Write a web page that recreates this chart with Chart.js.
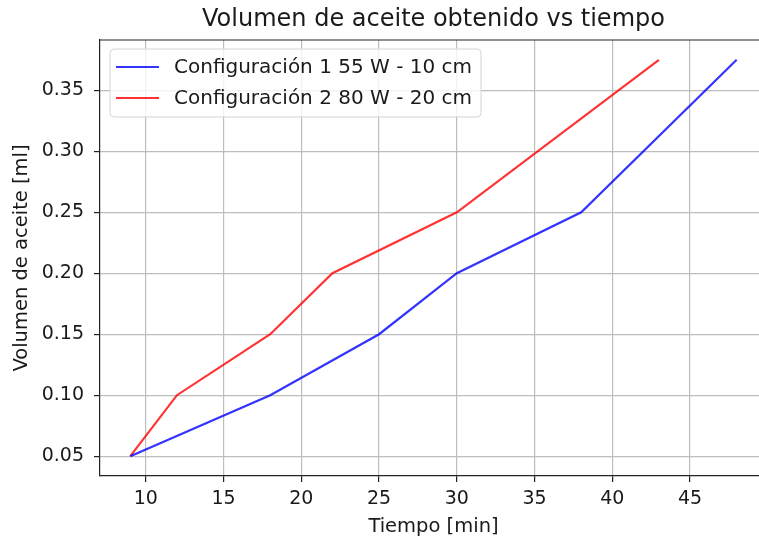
<!DOCTYPE html>
<html>
<head>
<meta charset="utf-8">
<script src="https://cdn.jsdelivr.net/npm/chart.js@4"></script>
<style>
  html, body { margin: 0; padding: 0; background: #fff; overflow: hidden; }
  canvas { display: block; }
</style>
</head>
<body>
<canvas id="grafico" width="780" height="540"></canvas>
<script>
// tiempos [min] y volumen de aceite [ml] de cada configuracion
const tiempo1 = [9, 18, 25, 30, 38, 48];
const volumen1 = [0.05, 0.10, 0.15, 0.20, 0.25, 0.375];
const tiempo2 = [9, 12, 18, 22, 30, 43];
const volumen2 = [0.05, 0.10, 0.15, 0.20, 0.25, 0.375];

const etiquetas = ['Configuración 1 55 W - 10 cm', 'Configuración 2 80 W - 20 cm'];
const xTicks = [10, 15, 20, 25, 30, 35, 40, 45];
const yTicks = [0.05, 0.10, 0.15, 0.20, 0.25, 0.30, 0.35];

const FONT = '"DejaVu Sans", sans-serif';
const TEXT = '#1a1a1a';
const TICK_SIZE = 19;
const LABEL_SIZE = 19.5;
const LEGEND_SIZE = 20;
Chart.defaults.font.family = FONT;
Chart.defaults.color = TEXT;

const toPoints = (xs, ys) => xs.map((x, i) => ({ x: x, y: ys[i] }));

// borde superior y derecho del area de trazado
const marco = {
  id: 'marco',
  afterDraw(chart) {
    const { ctx, chartArea: a } = chart;
    ctx.save();
    ctx.strokeStyle = '#222';
    ctx.lineWidth = 1.2;
    ctx.beginPath();
    ctx.moveTo(a.left, a.top);
    ctx.lineTo(a.right, a.top);
    ctx.lineTo(a.right, a.bottom);
    ctx.stroke();
    ctx.restore();
  }
};

// leyenda dentro del area de trazado, arriba a la izquierda
const leyenda = {
  id: 'leyenda',
  afterDatasetsDraw(chart) {
    const { ctx, chartArea: a } = chart;
    const sets = chart.data.datasets;
    ctx.save();
    ctx.font = LEGEND_SIZE + 'px ' + FONT;
    const textW = Math.max(...sets.map(d => ctx.measureText(d.label).width));
    const bx = a.left + 10, by = a.top + 9;
    const rowH = 31;
    const bw = 64 + textW + 9;
    const bh = 37 + rowH * (sets.length - 1);
    ctx.beginPath();
    ctx.roundRect(bx, by, bw, bh, 4);
    ctx.fillStyle = 'rgba(255,255,255,0.8)';
    ctx.fill();
    ctx.strokeStyle = '#d4d4d4';
    ctx.lineWidth = 1;
    ctx.stroke();
    sets.forEach((d, i) => {
      const cy = by + 18 + i * rowH;
      ctx.strokeStyle = d.borderColor;
      ctx.lineWidth = d.borderWidth;
      ctx.beginPath();
      ctx.moveTo(bx + 6, cy);
      ctx.lineTo(bx + 49, cy);
      ctx.stroke();
      ctx.fillStyle = TEXT;
      ctx.textBaseline = 'middle';
      ctx.fillText(d.label, bx + 64, cy + 1);
    });
    ctx.restore();
  }
};

const ejeGrid = {
  color: '#bdbdbd',
  lineWidth: 1.2,
  drawTicks: true,
  tickLength: 6,
  tickColor: '#222',
  tickWidth: 1.2
};

new Chart(document.getElementById('grafico'), {
  type: 'line',
  data: {
    datasets: [
      {
        label: etiquetas[0],
        data: toPoints(tiempo1, volumen1),
        borderColor: 'rgba(0, 0, 255, 0.8)',
        borderWidth: 2.2,
        pointRadius: 0,
        tension: 0
      },
      {
        label: etiquetas[1],
        data: toPoints(tiempo2, volumen2),
        borderColor: 'rgba(255, 0, 0, 0.8)',
        borderWidth: 2.2,
        pointRadius: 0,
        tension: 0
      }
    ]
  },
  options: {
    responsive: false,
    animation: false,
    devicePixelRatio: 1,
    layout: { padding: { left: 0, right: 13, top: 0, bottom: 0 } },
    plugins: {
      legend: { display: false },
      tooltip: { enabled: false },
      title: {
        display: true,
        fullSize: false,
        text: 'Volumen de aceite obtenido vs tiempo',
        color: TEXT,
        font: { size: 24, weight: 'normal' },
        padding: { top: 5, bottom: 6.2 }
      }
    },
    scales: {
      x: {
        type: 'linear',
        min: 7.05,
        max: 49.95,
        afterBuildTicks: s => { s.ticks = xTicks.map(v => ({ value: v })); },
        afterFit: s => { s.height = 64; },
        ticks: {
          font: { size: TICK_SIZE },
          color: TEXT,
          padding: 6,
          maxRotation: 0,
          callback: v => String(v)
        },
        grid: ejeGrid,
        border: { display: true, color: '#222', width: 1.2 },
        title: {
          display: true,
          text: 'Tiempo [min]',
          color: TEXT,
          font: { size: LABEL_SIZE },
          padding: { top: 0, bottom: 1 }
        }
      },
      y: {
        type: 'linear',
        min: 0.03375,
        max: 0.39125,
        afterBuildTicks: s => { s.ticks = yTicks.map(v => ({ value: v })); },
        afterFit: s => { s.width = 100; },
        ticks: {
          font: { size: TICK_SIZE },
          color: TEXT,
          padding: 10,
          callback: v => v.toFixed(2)
        },
        grid: ejeGrid,
        border: { display: true, color: '#222', width: 1.2 },
        title: {
          display: true,
          text: 'Volumen de aceite [ml]',
          color: TEXT,
          font: { size: LABEL_SIZE },
          padding: { top: 10, bottom: 0 }
        }
      }
    }
  },
  plugins: [marco, leyenda]
});
</script>
</body>
</html>
